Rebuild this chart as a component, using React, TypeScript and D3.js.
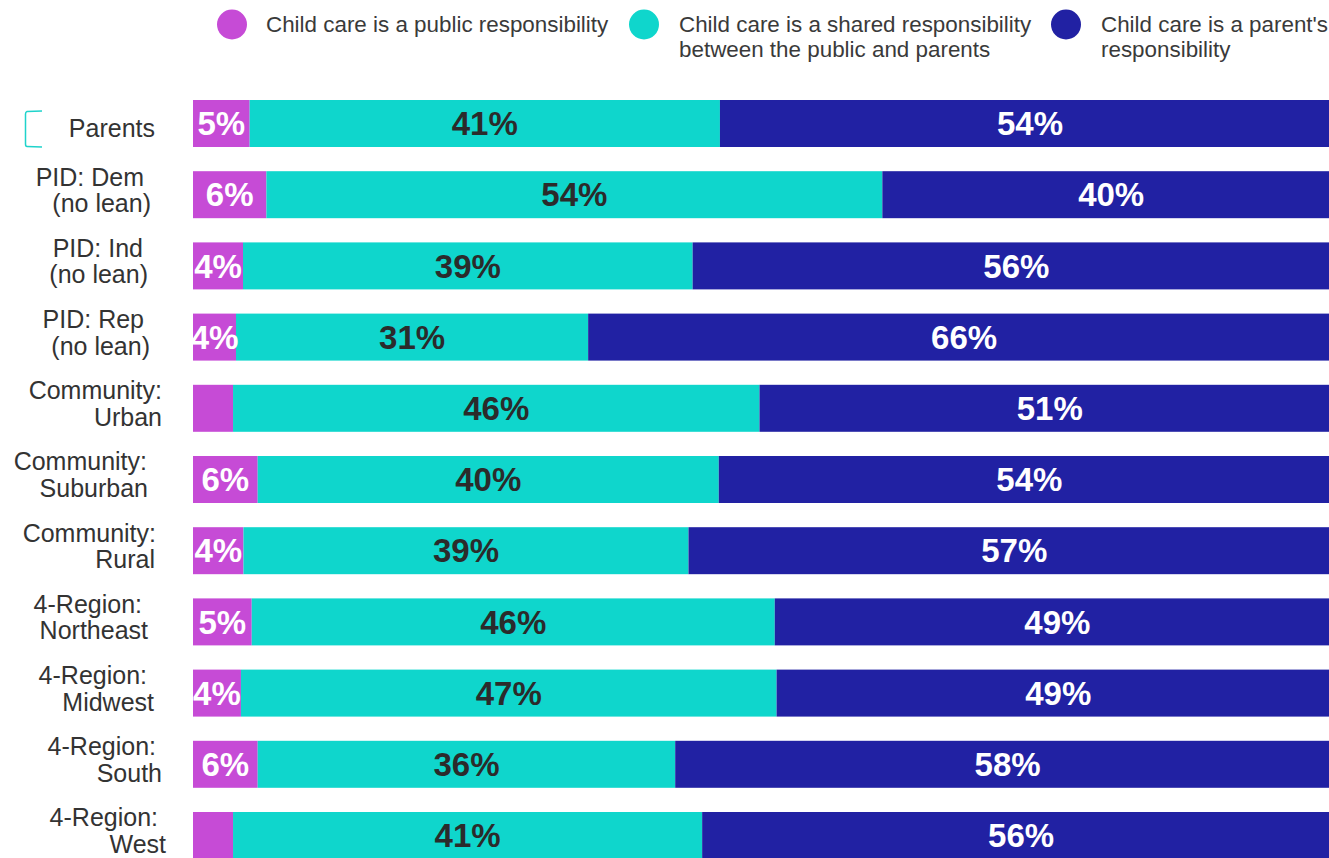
import React from "react";
import * as d3 from "d3";

const categories = [
  "Parents",
  "PID: Dem|(no lean)",
  "PID: Ind|(no lean)",
  "PID: Rep|(no lean)",
  "Community:|Urban",
  "Community:|Suburban",
  "Community:|Rural",
  "4-Region:|Northeast",
  "4-Region:|Midwest",
  "4-Region:|South",
  "4-Region:|West",
];

const publicResp = [4.94, 6.4, 4.36, 3.75, 3.49, 5.64, 4.4, 5.12, 4.18, 5.64, 3.49];
const sharedResp = [41.0, 53.7, 39.2, 30.7, 45.9, 40.2, 38.8, 45.6, 46.7, 36.4, 40.9];
const parentResp = [54.06, 39.9, 56.44, 65.55, 50.61, 54.16, 56.8, 49.28, 49.12, 57.96, 55.61];

const seriesNames = [
  "Child care is a public responsibility",
  "Child care is a shared responsibility|between the public and parents",
  "Child care is a parent's|responsibility",
];

const COLORS = ["#c64bd6", "#0fd6cc", "#2121a3"];
const LABEL_COLORS = ["#ffffff", "#2b2b2b", "#ffffff"];

// layout: right edge of each category label line (px)
const LABEL_RIGHT: number[][] = [
  [155],
  [144, 151],
  [143, 148],
  [144, 150],
  [162, 162],
  [147, 148],
  [156, 155],
  [142, 148],
  [147, 154],
  [156, 162],
  [158, 166],
];

const W = 1329;
const H = 858;
const FONT = "'Liberation Sans', Arial, Helvetica, sans-serif";

export default function App() {
  const x = d3.scaleLinear().domain([0, 100]).range([193, 1340]);
  const y = d3
    .scaleBand<string>()
    .domain(categories)
    .range([100, 100 + 71.2 * (categories.length - 0.34)])
    .paddingInner(0.34)
    .paddingOuter(0);

  const rows = categories.map((c, i) => ({
    cat: c,
    vals: [publicResp[i], sharedResp[i], parentResp[i]],
  }));

  const stack = d3.stack<any>().keys(["0", "1", "2"]).value((d: any, k: string) => d.vals[+k]);
  const stacked = stack(rows as any);

  const legendX = [232, 644, 1066];
  const legendTextX = [266, 679, 1101];

  return (
    <svg
      width={W}
      height={H}
      style={{ position: "absolute", left: 0, top: 0, background: "#fff" }}
      fontFamily={FONT}
    >
      {/* legend */}
      {seriesNames.map((name, s) => (
        <g key={s}>
          <circle cx={legendX[s]} cy={24.5} r={15} fill={COLORS[s]} />
          {name.split("|").map((line, li) => (
            <text
              key={li}
              x={legendTextX[s]}
              y={32 + li * 24.6}
              fontSize={22.4}
              fill="#3a3a3a"
            >
              {line}
            </text>
          ))}
        </g>
      ))}

      {/* selection bracket artifact */}
      <path
        d="M42,111 L27,111.5 Q25.5,112 25.5,114 L25.5,144 Q25.5,146.5 27,146.5 L42,147"
        fill="none"
        stroke="#1fd3cb"
        strokeWidth={1.5}
      />

      {/* category labels */}
      {categories.map((c, i) => {
        const lines = c.split("|");
        const cy = (y(c) as number) + y.bandwidth() / 2;
        const offsets = lines.length === 1 ? [13.8] : [-9, 17.5];
        return lines.map((line, li) => (
          <text
            key={c + li}
            x={LABEL_RIGHT[i][li]}
            y={cy + offsets[li]}
            textAnchor="end"
            fontSize={25}
            fill="#333333"
          >
            {line}
          </text>
        ));
      })}

      {/* bars */}
      {stacked.map((layer, s) => (
        <g key={s}>
          {layer.map((d: any, i: number) => (
            <rect
              key={i}
              x={x(d[0])}
              y={y(categories[i]) as number}
              width={x(d[1]) - x(d[0])}
              height={y.bandwidth()}
              fill={COLORS[s]}
            />
          ))}
        </g>
      ))}

      {/* value labels */}
      {stacked.map((layer, s) => (
        <g key={"l" + s}>
          {layer.map((d: any, i: number) => {
            const v = Math.round(d[1] - d[0]);
            if (v < 4) return null;
            const cx = (x(d[0]) + x(d[1])) / 2;
            const cy = (y(categories[i]) as number) + y.bandwidth() / 2;
            return (
              <text
                key={i}
                x={cx}
                y={cy + 11.8}
                textAnchor="middle"
                fontSize={33}
                fontWeight="bold"
                fill={LABEL_COLORS[s]}
              >
                {v}%
              </text>
            );
          })}
        </g>
      ))}
    </svg>
  );
}
